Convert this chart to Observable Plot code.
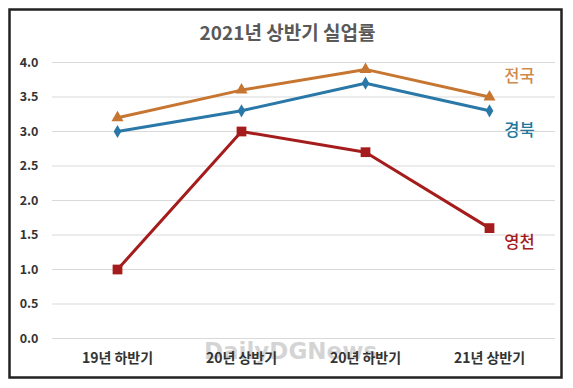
<!DOCTYPE html>
<html><head><meta charset="utf-8">
<script src="https://cdn.jsdelivr.net/npm/d3@7"></script>
<script src="https://cdn.jsdelivr.net/npm/@observablehq/plot@0.6"></script>
<style>
body{margin:0;background:#fff;}
#chart svg{display:block;font-family:"Noto Sans CJK KR","Noto Sans",sans-serif;}
</style></head>
<body><div id="chart"></div>
<script>
const periods = ["19년 하반기", "20년 상반기", "20년 하반기", "21년 상반기"];
const nation = [3.2, 3.6, 3.9, 3.5];     // 전국
const gyeongbuk = [3.0, 3.3, 3.7, 3.3];  // 경북
const yeongcheon = [1.0, 3.0, 2.7, 1.6]; // 영천
const yTicks = [0, 0.5, 1, 1.5, 2, 2.5, 3, 3.5, 4];
const title = "2021년 상반기 실업률";

const mk = (vals) => periods.map((p, i) => ({p, v: vals[i]}));
const dNation = mk(nation), dGb = mk(gyeongbuk), dYc = mk(yeongcheon);
const cN = "#C67630", cG = "#2A78A8", cY = "#A51C1C";

const plot = Plot.plot({
  width: 573, height: 388,
  marginLeft: 55, marginRight: 22, marginTop: 62, marginBottom: 50,
  style: {fontFamily: '"Noto Sans CJK KR","Noto Sans",sans-serif', background: "#fff"},
  x: {type: "band", domain: periods, padding: 0, label: null},
  y: {domain: [0, 4], label: null},
  marks: [
    Plot.ruleY(yTicks, {stroke: "#d9d9d9", strokeWidth: 1, insetLeft: -3, insetRight: -4}),
    Plot.axisY({ticks: yTicks, tickFormat: d3.format(".1f"), tickSize: 0, tickPadding: 17, fontSize: 12.5, fontWeight: 600, fill: "#333", label: null}),
    Plot.text(["DailyDGNews"], {frameAnchor: "bottom", dx: -13, dy: 20, fontSize: 23, fontWeight: 700, fill: "#aaa", fillOpacity: 0.5, fontFamily: "DejaVu Sans"}),
    Plot.axisX({tickSize: 0, tickPadding: 15, fontSize: 14, fontWeight: 700, fill: "#333", label: null}),
    Plot.line(dNation, {x: "p", y: "v", stroke: cN, strokeWidth: 3}),
    Plot.line(dGb, {x: "p", y: "v", stroke: cG, strokeWidth: 3}),
    Plot.line(dYc, {x: "p", y: "v", stroke: cY, strokeWidth: 3}),
    Plot.dot(dNation, {x: "p", y: "v", symbol: "triangle", r: 4.5, fill: cN, stroke: null}),
    Plot.dot(dGb, {x: "p", y: "v", symbol: "diamond", r: 4, fill: cG, stroke: null}),
    Plot.dot(dYc, {x: "p", y: "v", symbol: "square", r: 5.5, fill: cY, stroke: null}),
    Plot.text(dNation.slice(-1), {x: "p", y: "v", text: () => "전국", dx: 30, dy: -20, fontSize: 16.5, fontWeight: 500, fill: "#D08A4C"}),
    Plot.text(dGb.slice(-1), {x: "p", y: "v", text: () => "경북", dx: 30, dy: 20, fontSize: 16.5, fontWeight: 500, fill: "#21789C"}),
    Plot.text(dYc.slice(-1), {x: "p", y: "v", text: () => "영천", dx: 30, dy: 15, fontSize: 16.5, fontWeight: 500, fill: "#A51C1C"}),
    Plot.text([title], {frameAnchor: "top", dx: -16, dy: -36, fontSize: 19, fontWeight: 700, fill: "#595959"})
  ]
});
d3.select(plot).append("rect").attr("x", 9.5).attr("y", 9.5).attr("width", 552).attr("height", 368)
  .attr("fill", "none").attr("stroke", "#222").attr("stroke-width", 2.5);
document.getElementById("chart").appendChild(plot);
</script></body></html>
